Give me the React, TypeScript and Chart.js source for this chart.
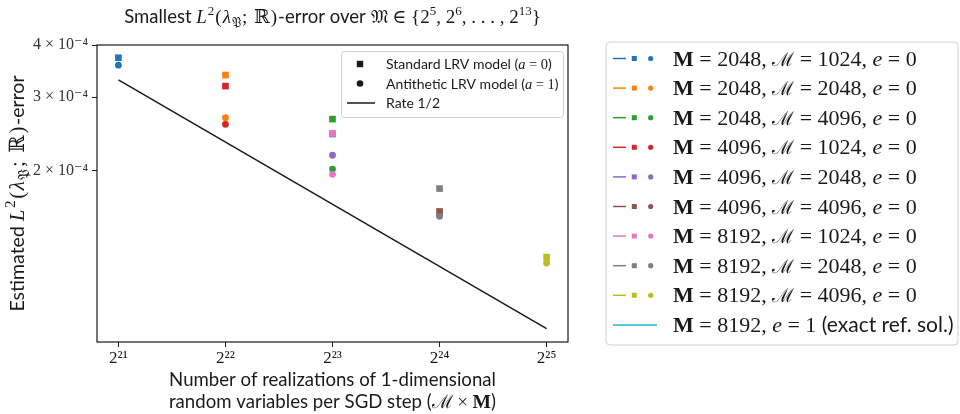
import React, { useEffect, useRef } from "react";
import { Chart, registerables } from "chart.js";
Chart.register(...registerables);

// ---- data ----
const bigM = [2048, 2048, 2048, 4096, 4096, 4096, 8192, 8192, 8192];
const scriptM = [1024, 2048, 4096, 1024, 2048, 4096, 1024, 2048, 4096];
const standardErr = [3.73e-4, 3.39e-4, 2.66e-4, 3.19e-4, 2.45e-4, 1.6e-4, 2.46e-4, 1.815e-4, 1.245e-4];
const antitheticErr = [3.58e-4, 2.68e-4, 2.02e-4, 2.585e-4, 2.18e-4, 1.565e-4, 1.963e-4, 1.558e-4, 1.205e-4];
const seriesColors = ["#1f77b4", "#ff7f0e", "#2ca02c", "#d62728", "#9467bd", "#8c564b", "#e377c2", "#7f7f7f", "#bcbd22"];
const exactRefColor = "#17becf";
const exactRefM = 8192;
const rateX = [2 ** 21, 2 ** 25];
const rateY = [3.3e-4, 8.4e-5];
const xTickExponents = [21, 22, 23, 24, 25];
const yTickValues = [2e-4, 3e-4, 4e-4];

const SANS = "Lato, 'DejaVu Sans', sans-serif";
const SERIF = "'Liberation Serif', 'DejaVu Serif', serif";
const INK = "#1a1a1a";

const SUP: Record<string, string> = { "0": "⁰", "1": "¹", "2": "²", "3": "³", "4": "⁴", "5": "⁵", "6": "⁶", "7": "⁷", "8": "⁸", "9": "⁹", "-": "⁻" };
const sup = (s: string) => s.split("").map((c) => SUP[c] || c).join("");

type Seg = { t: string; f: string; dy?: number; sp?: number };

function segW(ctx: CanvasRenderingContext2D, s: Seg) {
  ctx.font = s.f;
  return ctx.measureText(s.t).width + (s.sp || 0) * [...s.t].length;
}
function drawSegs(ctx: CanvasRenderingContext2D, segs: Seg[], x: number, y: number, align: "left" | "center" = "left") {
  let w = 0;
  for (const s of segs) w += segW(ctx, s);
  let cx = align === "center" ? x - w / 2 : x;
  ctx.textAlign = "left";
  ctx.textBaseline = "alphabetic";
  for (const s of segs) {
    ctx.font = s.f;
    if (s.sp) {
      for (const ch of [...s.t]) {
        ctx.fillText(ch, cx, y + (s.dy || 0));
        cx += ctx.measureText(ch).width + s.sp;
      }
    } else {
      ctx.fillText(s.t, cx, y + (s.dy || 0));
      cx += ctx.measureText(s.t).width;
    }
  }
}
function lNorm(size: number, sp: number): Seg[] {
  return [
    { t: "L", f: `italic ${size}px ${SERIF}`, sp },
    { t: "2", f: `${Math.round(size * 0.7)}px ${SERIF}`, dy: -size * 0.42, sp },
    { t: "(", f: `${size}px ${SERIF}`, sp },
    { t: "λ", f: `italic ${size}px ${SERIF}`, sp },
    { t: "𝔓", f: `${Math.round(size * 0.7)}px ${SERIF}`, dy: size * 0.22, sp },
    { t: "; ℝ)", f: `${size}px ${SERIF}`, sp },
  ];
}

const decor = {
  id: "decor",
  afterDraw(chart: any) {
    const ctx: CanvasRenderingContext2D = chart.ctx;
    const a = chart.chartArea;
    ctx.save();
    // frame
    ctx.strokeStyle = INK;
    ctx.lineWidth = 1.2;
    ctx.strokeRect(a.left, a.top, a.right - a.left, a.bottom - a.top);
    ctx.fillStyle = INK;

    // title
    const ts = 18.5;
    const tm = 19;
    const tSup = `${Math.round(tm * 0.7)}px ${SERIF}`;
    drawSegs(
      ctx,
      [
        { t: "Smallest ", f: `${ts}px ${SANS}` },
        ...lNorm(tm, 1),
        { t: "-error over ", f: `${ts}px ${SANS}` },
        { t: "𝔐", f: `${tm}px ${SERIF}` },
        { t: " ∈ {2", f: `${tm}px ${SERIF}` },
        { t: "5", f: tSup, dy: -tm * 0.42 },
        { t: ", 2", f: `${tm}px ${SERIF}` },
        { t: "6", f: tSup, dy: -tm * 0.42 },
        { t: ", . . . , 2", f: `${tm}px ${SERIF}` },
        { t: "13", f: tSup, dy: -tm * 0.42 },
        { t: "}", f: `${tm}px ${SERIF}` },
      ],
      (a.left + a.right) / 2,
      23,
      "center"
    );

    // y axis title
    ctx.save();
    ctx.translate(24, (a.top + a.bottom) / 2);
    ctx.rotate(-Math.PI / 2);
    drawSegs(ctx, [{ t: "Estimated ", f: `19.5px ${SANS}` }, ...lNorm(21, 1.6), { t: "-error", f: `19.5px ${SANS}` }], 0, 0, "center");
    ctx.restore();

    // x axis title
    const cx = (a.left + a.right) / 2;
    const xs = 18.6;
    drawSegs(ctx, [{ t: "Number of realizations of 1-dimensional", f: `${xs}px ${SANS}` }], cx, 386, "center");
    drawSegs(
      ctx,
      [
        { t: "random variables per SGD step (", f: `${xs}px ${SANS}` },
        { t: "ℳ", f: `${xs}px ${SERIF}` },
        { t: " × ", f: `${xs}px ${SERIF}` },
        { t: "M", f: `bold ${xs + 1}px ${SERIF}` },
        { t: ")", f: `${xs}px ${SANS}` },
      ],
      cx,
      408,
      "center"
    );

    // inset legend
    ctx.beginPath();
    ctx.roundRect(341.5, 51.5, 222, 66, 3);
    ctx.fillStyle = "rgba(255,255,255,0.8)";
    ctx.fill();
    ctx.strokeStyle = "#d0d0d0";
    ctx.lineWidth = 1;
    ctx.stroke();
    ctx.fillStyle = INK;
    ctx.fillRect(360 - 3.2, 64 - 3.2, 6.4, 6.4);
    ctx.beginPath();
    ctx.arc(360, 83.5, 3.3, 0, Math.PI * 2);
    ctx.fill();
    ctx.strokeStyle = INK;
    ctx.lineWidth = 1.5;
    ctx.beginPath();
    ctx.moveTo(347, 103);
    ctx.lineTo(375, 103);
    ctx.stroke();
    const ls = 14;
    const lm = 14.5;
    drawSegs(ctx, [{ t: "Standard LRV model (", f: `${ls}px ${SANS}` }, { t: "a", f: `italic ${lm}px ${SERIF}` }, { t: " = 0", f: `${lm}px ${SERIF}` }, { t: ")", f: `${ls}px ${SANS}` }], 386, 69);
    drawSegs(ctx, [{ t: "Antithetic LRV model (", f: `${ls}px ${SANS}` }, { t: "a", f: `italic ${lm}px ${SERIF}` }, { t: " = 1", f: `${lm}px ${SERIF}` }, { t: ")", f: `${ls}px ${SANS}` }], 386, 88.5);
    drawSegs(ctx, [{ t: "Rate 1/2", f: `${ls}px ${SANS}` }], 386, 108);

    // right legend
    ctx.beginPath();
    ctx.roundRect(606, 42, 352, 303, 4);
    ctx.fillStyle = "#fff";
    ctx.fill();
    ctx.strokeStyle = "#d0d0d0";
    ctx.lineWidth = 1;
    ctx.stroke();
    const rs = 22;
    const rowY = (i: number) => 58.5 + i * 29.6;
    bigM.forEach((m, i) => {
      const y = rowY(i);
      const c = seriesColors[i];
      ctx.strokeStyle = c;
      ctx.lineWidth = 1.5;
      ctx.beginPath();
      ctx.moveTo(613, y);
      ctx.lineTo(626, y);
      ctx.stroke();
      ctx.fillStyle = c;
      ctx.fillRect(634.3 - 2.5, y - 2.5, 5, 5);
      ctx.beginPath();
      ctx.arc(650.7, y, 2.6, 0, Math.PI * 2);
      ctx.fill();
      ctx.fillStyle = INK;
      drawSegs(
        ctx,
        [
          { t: "M", f: `bold ${rs}px ${SERIF}` },
          { t: ` = ${m}, `, f: `${rs}px ${SERIF}` },
          { t: "ℳ", f: `${rs - 3}px ${SERIF}` },
          { t: ` = ${scriptM[i]}, `, f: `${rs}px ${SERIF}` },
          { t: "e", f: `italic ${rs}px ${SERIF}` },
          { t: " = 0", f: `${rs}px ${SERIF}` },
        ],
        673,
        y + 7
      );
    });
    const yE = rowY(9);
    ctx.strokeStyle = exactRefColor;
    ctx.lineWidth = 1.5;
    ctx.beginPath();
    ctx.moveTo(613, yE);
    ctx.lineTo(657, yE);
    ctx.stroke();
    ctx.fillStyle = INK;
    drawSegs(
      ctx,
      [
        { t: "M", f: `bold ${rs}px ${SERIF}` },
        { t: ` = ${exactRefM}, `, f: `${rs}px ${SERIF}` },
        { t: "e", f: `italic ${rs}px ${SERIF}` },
        { t: " = 1 ", f: `${rs}px ${SERIF}` },
        { t: "(exact ref. sol.)", f: `21px ${SANS}` },
      ],
      673,
      yE + 7
    );
    ctx.restore();
  },
};

export default function App() {
  const ref = useRef<HTMLCanvasElement>(null);
  useEffect(() => {
    const datasets: any[] = bigM.map((m, i) => ({
      type: "scatter",
      label: `M = ${m}, ℳ = ${scriptM[i]}, e = 0`,
      data: [
        { x: m * scriptM[i], y: standardErr[i] },
        { x: m * scriptM[i], y: antitheticErr[i] },
      ],
      pointStyle: ["rect", "circle"],
      pointRadius: [4.7, 3.4],
      backgroundColor: seriesColors[i],
      borderColor: seriesColors[i],
      borderWidth: 0,
      showLine: false,
      order: 100 - i,
    }));
    datasets.push({
      type: "line",
      label: "Rate 1/2",
      data: rateX.map((x, i) => ({ x, y: rateY[i] })),
      borderColor: INK,
      borderWidth: 1.5,
      pointRadius: 0,
      fill: false,
      order: 0,
    });
    const chart = new Chart(ref.current!, {
      type: "scatter",
      data: { datasets },
      options: {
        responsive: false,
        animation: false,
        devicePixelRatio: 1,
        layout: { padding: { left: 0, top: 45, right: 392, bottom: 0 } },
        plugins: { legend: { display: false }, tooltip: { enabled: false }, title: { display: false } },
        scales: {
          x: {
            type: "logarithmic",
            min: 2 ** 20.8,
            max: 2 ** 25.2,
            afterBuildTicks: (s: any) => {
              s.ticks = xTickExponents.map((e) => ({ value: 2 ** e }));
            },
            afterFit: (s: any) => {
              s.height = 72;
            },
            ticks: {
              callback: (v: any) => "2" + sup(String(Math.round(Math.log2(Number(v))))),
              font: { family: SERIF, size: 17 },
              color: INK,
              padding: 1,
              maxRotation: 0,
              autoSkip: false,
            },
            grid: { drawOnChartArea: false, drawTicks: true, tickLength: 5, color: INK, lineWidth: 1 },
            border: { display: false },
          },
          y: {
            type: "logarithmic",
            min: 7.8e-5,
            max: 4.0e-4,
            afterBuildTicks: (s: any) => {
              s.ticks = yTickValues.map((v) => ({ value: v }));
            },
            afterFit: (s: any) => {
              s.width = 97;
            },
            ticks: {
              callback: (v: any) => `${Math.round(Number(v) / 1e-4)} × 10${sup("-4")}`,
              font: { family: SERIF, size: 16 },
              color: "#333",
              padding: 4,
              autoSkip: false,
            },
            grid: { drawOnChartArea: false, drawTicks: true, tickLength: 5, color: INK, lineWidth: 1 },
            border: { display: false },
          },
        },
      },
      plugins: [decor],
    } as any);
    return () => chart.destroy();
  }, []);
  return (
    <div style={{ position: "absolute", left: 0, top: 0, width: 960, height: 414, background: "#fff" }}>
      <canvas ref={ref} width={960} height={414} style={{ display: "block", width: 960, height: 414 }} />
    </div>
  );
}
